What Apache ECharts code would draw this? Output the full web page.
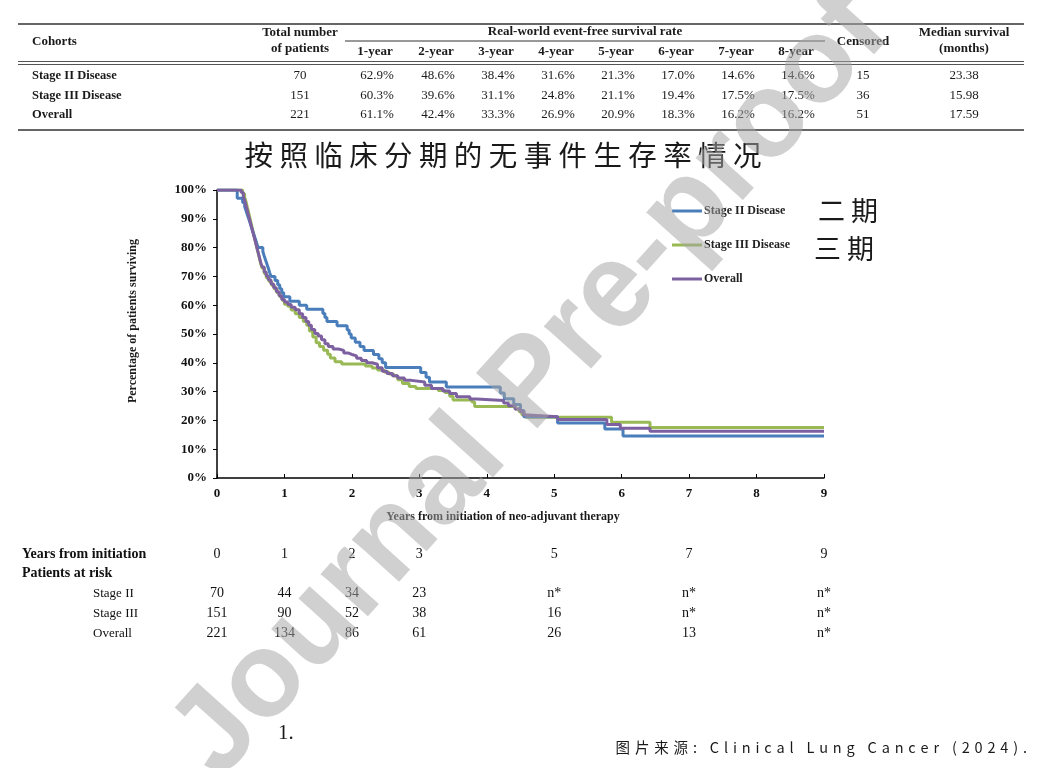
<!DOCTYPE html>
<html><head><meta charset="utf-8">
<script src="https://cdn.jsdelivr.net/npm/echarts@6/dist/echarts.min.js"></script>
<style>html,body{margin:0;padding:0;background:#fff}#c{width:1048px;height:768px}</style>
</head><body><div id="c"></div>
<script>
// ---------- DATA ----------
const chartTitle = '按照临床分期的无事件生存率情况';
const seriesNames = ['Stage II Disease', 'Stage III Disease', 'Overall'];
const legendCn = ['二 期', '三 期'];

// Kaplan-Meier curves: [years, survival %] (value after each drop)
const stage2Curve = [[0,100],[0.30,97.1],[0.38,95.7],[0.41,94.3],[0.43,92.9],[0.45,91.4],[0.47,90.0],[0.49,88.6],[0.51,87.1],[0.53,85.7],[0.55,84.3],[0.57,82.9],[0.59,81.4],[0.61,80.0],[0.68,78.6],[0.70,77.1],[0.72,75.7],[0.74,74.3],[0.76,72.9],[0.78,71.4],[0.80,70.0],[0.86,68.6],[0.90,67.1],[0.93,65.7],[0.96,64.3],[0.99,62.9],[1.08,61.4],[1.22,60.0],[1.33,58.6],[1.57,57.1],[1.60,55.7],[1.63,54.3],[1.78,52.9],[1.93,51.4],[1.96,50.0],[1.99,48.6],[2.05,47.1],[2.12,45.7],[2.18,44.3],[2.32,42.9],[2.40,41.4],[2.45,40.0],[2.50,38.4],[3.02,36.6],[3.10,35.0],[3.15,33.3],[3.40,31.6],[4.20,29.5],[4.26,27.5],[4.40,25.5],[4.50,23.4],[4.55,21.3],[5.05,19.1],[5.75,17.0],[6.02,14.6],[9,14.6]];
const stage3Curve = [[0,100],[0.38,98.7],[0.41,97.4],[0.43,96.0],[0.45,94.0],[0.47,92.1],[0.49,90.1],[0.51,88.1],[0.53,86.1],[0.55,84.1],[0.57,82.1],[0.59,80.1],[0.61,78.1],[0.63,76.2],[0.65,74.2],[0.67,72.8],[0.70,71.0],[0.73,69.5],[0.77,68.2],[0.81,66.9],[0.85,65.6],[0.89,64.2],[0.93,62.9],[0.97,61.6],[1.00,60.3],[1.05,59.6],[1.10,58.3],[1.16,57.0],[1.22,55.7],[1.28,54.3],[1.33,53.0],[1.37,51.0],[1.42,49.0],[1.47,47.0],[1.52,45.7],[1.58,44.4],[1.64,43.0],[1.68,41.7],[1.75,40.4],[1.85,39.6],[2.20,38.9],[2.30,38.2],[2.38,37.5],[2.48,36.8],[2.55,36.1],[2.62,35.4],[2.68,34.1],[2.75,32.8],[2.85,31.8],[2.95,31.1],[3.28,30.4],[3.38,29.7],[3.45,28.4],[3.50,27.1],[3.78,26.4],[3.82,24.8],[4.42,24.0],[4.48,23.0],[4.52,22.0],[4.58,21.1],[5.85,19.4],[6.42,17.5],[9,17.5]];
const overallCurve = [[0,100],[0.36,99.1],[0.39,97.7],[0.41,96.4],[0.43,94.6],[0.45,92.8],[0.47,90.9],[0.49,89.1],[0.51,87.3],[0.53,85.5],[0.55,83.7],[0.57,81.9],[0.59,80.1],[0.61,78.3],[0.63,76.5],[0.65,74.7],[0.67,73.3],[0.70,71.5],[0.73,70.1],[0.76,68.8],[0.80,67.4],[0.84,66.1],[0.88,64.7],[0.92,63.3],[0.96,62.0],[1.00,61.1],[1.05,60.2],[1.10,59.3],[1.16,58.4],[1.22,57.0],[1.27,55.7],[1.32,54.3],[1.36,53.0],[1.40,51.6],[1.45,50.2],[1.50,49.3],[1.55,48.0],[1.60,46.6],[1.65,45.7],[1.72,44.8],[1.80,44.3],[1.88,43.4],[1.95,42.9],[2.00,42.4],[2.07,41.6],[2.14,40.8],[2.22,40.0],[2.30,39.5],[2.38,38.3],[2.45,37.1],[2.52,36.3],[2.60,35.5],[2.68,34.7],[2.78,33.9],[2.88,33.3],[3.08,32.2],[3.18,31.1],[3.35,30.2],[3.45,29.3],[3.55,28.2],[3.75,27.4],[3.85,26.9],[4.25,26.0],[4.32,25.1],[4.42,24.0],[4.50,23.0],[4.55,21.9],[4.62,21.3],[5.05,20.3],[5.78,18.6],[5.98,17.3],[6.42,16.2],[9,16.2]];

// Summary table
const tableYearHeaders = ['1-year','2-year','3-year','4-year','5-year','6-year','7-year','8-year'];
const totalPatients = [70, 151, 221];
const rateStage2 = [62.9, 48.6, 38.4, 31.6, 21.3, 17.0, 14.6, 14.6];
const rateStage3 = [60.3, 39.6, 31.1, 24.8, 21.1, 19.4, 17.5, 17.5];
const rateOverall = [61.1, 42.4, 33.3, 26.9, 20.9, 18.3, 16.2, 16.2];
const censored = [15, 36, 51];
const medianSurvival = ['23.38', '15.98', '17.59'];

// Patients at risk table
const riskRows = ['Years from initiation', 'Patients at risk', 'Stage II', 'Stage III', 'Overall'];
const riskYears = [0, 1, 2, 3, 5, 7, 9];
const riskStage2 = [70, 44, 34, 23, 'n*', 'n*', 'n*'];
const riskStage3 = [151, 90, 52, 38, 16, 'n*', 'n*'];
const riskOverall = [221, 134, 86, 61, 26, 13, 'n*'];

const footNumber = '1.';
const sourceText = '图片来源: Clinical Lung Cancer (2024).';
const watermarkText = 'Journal Pre-proof';

// ---------- STYLE / LAYOUT ----------
const SERIF = '"Liberation Serif","Times New Roman",serif';
const CJK = '"Noto Sans CJK SC","Noto Sans",sans-serif';
const colors = { 'Stage II Disease': '#4A7EBB', 'Stage III Disease': '#98B954', 'Overall': '#7D60A0' };
const colX = [375, 436, 496, 556, 616, 676, 736, 796];
const rowY = [76, 95.5, 115];
const TL = 18, TR = 1024;

const graphics = [];
function txt(x, y, text, font, align, extra) {
  graphics.push(Object.assign({ type: 'text', x: x, y: y, z: 50,
    style: { text: String(text), font: font, fill: '#1a1a1a', textAlign: align || 'center', textVerticalAlign: 'middle' } }, extra || {}));
}
function hline(y, x1, x2, w, c) {
  graphics.push({ type: 'line', z: 50, shape: { x1: x1, y1: y, x2: x2, y2: y }, style: { stroke: c || '#444', lineWidth: w || 1 } });
}

// table rules
hline(24, TL, TR, 2, '#666');
hline(41, 345, 825, 1, '#333');
hline(61.5, TL, TR, 1.2, '#555');
hline(64.5, TL, TR, 1.2, '#555');
hline(130, TL, TR, 2, '#666');
// table headers
const hb = 'bold 13px ' + SERIF;
txt(32, 42, 'Cohorts', hb, 'left');
txt(300, 33, 'Total number', hb);
txt(300, 49, 'of patients', hb);
txt(585, 32, 'Real-world event-free survival rate', hb);
tableYearHeaders.forEach((h, i) => txt(colX[i], 52, h, hb));
txt(863, 42, 'Censored', hb);
txt(964, 33, 'Median survival', hb);
txt(964, 49, '(months)', hb);
// table rows
const rates = [rateStage2, rateStage3, rateOverall];
seriesNames.forEach((name, r) => {
  txt(32, rowY[r], name, 'bold 12.5px ' + SERIF, 'left');
  txt(300, rowY[r], totalPatients[r], '13px ' + SERIF);
  rates[r].forEach((v, i) => txt(colX[i] + 2, rowY[r], v.toFixed(1) + '%', '13px ' + SERIF));
  txt(863, rowY[r], censored[r], '13px ' + SERIF);
  txt(964, rowY[r], medianSurvival[r], '13px ' + SERIF);
});
// title
txt(503, 155, chartTitle.split('').join(' '), '28.5px ' + CJK);
// axis names
txt(503, 517, 'Years from initiation of neo-adjuvant therapy', 'bold 12px ' + SERIF);
txt(133, 321, 'Percentage of patients surviving', 'bold 12px ' + SERIF, 'center', { rotation: Math.PI / 2 });
// chinese legend labels
txt(818, 211, legendCn[0], '27px ' + CJK, 'left');
txt(814, 249, legendCn[1], '27px ' + CJK, 'left');
// footer
txt(278, 733, footNumber, '21px ' + SERIF, 'left');
txt(1027, 747, sourceText.split('').join('\u2004'), '14.5px ' + CJK, 'right');
// watermark
graphics.push({ type: 'text', x: 195, y: 759, rotation: 48 * Math.PI / 180, z: 100,
  style: { text: watermarkText, font: 'bold 120px "Liberation Sans",sans-serif', fill: 'rgba(165,165,165,0.52)', textAlign: 'left', textVerticalAlign: 'middle' } });

// risk table scatter labels
const riskLists = [riskYears, null, riskStage2, riskStage3, riskOverall];
const riskData = [];
riskLists.forEach((list, r) => {
  if (!list) return;
  list.forEach((v, i) => riskData.push([riskYears[i], riskRows[r], v]));
});

const chart = echarts.init(document.getElementById('c'), null, { renderer: 'canvas' });
const kmSeries = [
  ['Stage III Disease', stage3Curve],
  ['Stage II Disease', stage2Curve],
  ['Overall', overallCurve]
].map(([name, data]) => ({
  name: name, type: 'line', step: 'end', data: data, showSymbol: false, symbol: 'none',
  xAxisIndex: 0, yAxisIndex: 0, animation: false,
  lineStyle: { width: 3, color: colors[name] }, itemStyle: { color: colors[name] }
}));

chart.setOption({
  animation: false,
  backgroundColor: '#fff',
  grid: [
    { left: 217, right: 224, top: 190, bottom: 290 },
    { left: 217, right: 224, top: 544, height: 99 }
  ],
  xAxis: [
    { type: 'value', gridIndex: 0, min: 0, max: 9, interval: 1,
      axisLine: { lineStyle: { color: '#000', width: 1.5 } },
      axisTick: { inside: true, length: 4, lineStyle: { color: '#000' } },
      splitLine: { show: false },
      axisLabel: { margin: 9, color: '#111', fontFamily: SERIF, fontWeight: 'bold', fontSize: 13 } },
    { type: 'value', gridIndex: 1, min: 0, max: 9, show: false }
  ],
  yAxis: [
    { type: 'value', gridIndex: 0, min: 0, max: 100, interval: 10,
      axisLine: { show: true, lineStyle: { color: '#000', width: 1.5 } },
      axisTick: { show: true, length: 4, lineStyle: { color: '#000' } },
      splitLine: { show: false },
      axisLabel: { margin: 10, formatter: v => v + '%', color: '#111', fontFamily: SERIF, fontWeight: 'bold', fontSize: 13 } },
    { type: 'category', gridIndex: 1, data: riskRows, inverse: true,
      axisLine: { show: false }, axisTick: { show: false }, splitLine: { show: false },
      axisLabel: { align: 'left', margin: 195, color: '#111',
        formatter: (v, i) => i < 2 ? '{a|' + v + '}' : '{b|' + v + '}',
        rich: { a: { fontFamily: SERIF, fontWeight: 'bold', fontSize: 14, color: '#111' },
                b: { fontFamily: SERIF, fontSize: 13, color: '#111', padding: [0, 0, 0, 71] } } } }
  ],
  legend: {
    data: seriesNames, orient: 'vertical', left: 672, top: 205, itemGap: 22, padding: 0,
    icon: 'rect', itemWidth: 30, itemHeight: 3,
    textStyle: { fontFamily: SERIF, fontWeight: 'bold', fontSize: 12, color: '#222', padding: [0, 0, 0, -3] }
  },
  series: kmSeries.concat([{
    type: 'scatter', xAxisIndex: 1, yAxisIndex: 1, data: riskData, symbolSize: 0,
    itemStyle: { color: '#111', opacity: 1 }, silent: true,
    label: { show: true, position: 'inside', formatter: p => String(p.value[2]),
      fontFamily: SERIF, fontSize: 14, color: '#111', textBorderWidth: 0, opacity: 1 }
  }]),
  graphic: graphics
});
</script></body></html>
